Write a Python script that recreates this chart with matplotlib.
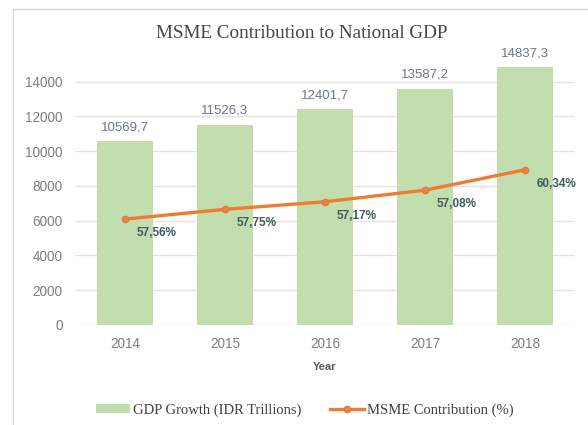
import matplotlib
matplotlib.use("Agg")
import matplotlib.pyplot as plt
from matplotlib.patches import Rectangle, Patch
from matplotlib.lines import Line2D

years = ["2014", "2015", "2016", "2017", "2018"]
gdp_values = [10569.7, 11526.3, 12401.7, 13587.2, 14837.3]
gdp_labels = ["10569,7", "11526,3", "12401,7", "13587,2", "14837,3"]
msme_values = [6090, 6656, 7090, 7756, 8930]
msme_labels = ["57,56%", "57,75%", "57,17%", "57,08%", "60,34%"]
y_ticks = [0, 2000, 4000, 6000, 8000, 10000, 12000, 14000]

W, H = 588, 425
fig = plt.figure(figsize=(W / 100, H / 100), dpi=100)
fig.patch.set_facecolor("white")

# chart-area border
fig.patches.append(Rectangle((13 / W, -0.05), 1.1, 1 - 9 / H + 0.05, transform=fig.transFigure,
                             fill=False, edgecolor="#d9d9d9", linewidth=1.0))

ax = fig.add_axes([75 / W, 1 - 325 / H, 500 / W, (325 - 46.9) / H])
x = list(range(len(years)))

ax.bar(x, gdp_values, width=0.56, color="#c2deaf", zorder=2)
ax.plot(x, msme_values, color="#ed7d31", linewidth=2.4, marker="o", markersize=4.5,
        markerfacecolor="#e8844a", markeredgecolor="#e07a3a", zorder=3)

for xi, v, lab in zip(x, gdp_values, gdp_labels):
    ax.annotate(lab, (xi, v), xytext=(0, 14), textcoords="offset pixels", ha="center",
                va="center", fontsize=9.5, color="#6c7592", family="Liberation Sans")
for xi, v, lab in zip(x, msme_values, msme_labels):
    ax.annotate(lab, (xi, v), xytext=(12, -14), textcoords="offset pixels", ha="left",
                va="center", fontsize=8.5, color="#3e5c5c", fontweight="bold",
                family="Liberation Sans")

ax.set_xlim(-0.5, 4.5)
ax.set_ylim(0, 16000)
ax.set_yticks(y_ticks)
ax.set_yticklabels([str(t) for t in y_ticks])
ax.set_xticks(x)
ax.set_xticklabels(years)
ax.tick_params(axis="both", length=0, labelsize=9.8, labelcolor="#7f7f7f")
ax.tick_params(axis="x", pad=9)
ax.tick_params(axis="y", pad=9)
for lab in ax.get_xticklabels() + ax.get_yticklabels():
    lab.set_family("Liberation Sans")
ax.grid(axis="y", color="#e3e3e3", linewidth=1.0, zorder=0)
for s in ax.spines.values():
    s.set_visible(False)

fig.text(325 / W, 1 - 367 / H, "Year", ha="center", va="center", fontsize=8,
         fontweight="bold", color="#595959", family="Liberation Sans")
fig.text(302 / W, 1 - 33 / H, "MSME Contribution to National GDP", ha="center", va="center",
         fontsize=13.8, color="#454545", family="Liberation Serif")

handles = [Patch(facecolor="#c2deaf", edgecolor="none"),
           Line2D([0], [0], color="#ed7d31", linewidth=2.4, marker="o", markersize=4.5,
                  markerfacecolor="#e8844a", markeredgecolor="#e07a3a")]
leg = fig.legend(handles, ["GDP Growth (IDR Trillions)", "MSME Contribution (%)"],
                 loc="center", bbox_to_anchor=(305 / W, 1 - 410 / H), ncol=2, frameon=False,
                 prop={"family": "Liberation Serif", "size": 10.5}, handlelength=2.3,
                 handleheight=0.5, columnspacing=2.0, handletextpad=0.2)
for t in leg.get_texts():
    t.set_color("#404040")

fig.savefig("out.png", dpi=100)
